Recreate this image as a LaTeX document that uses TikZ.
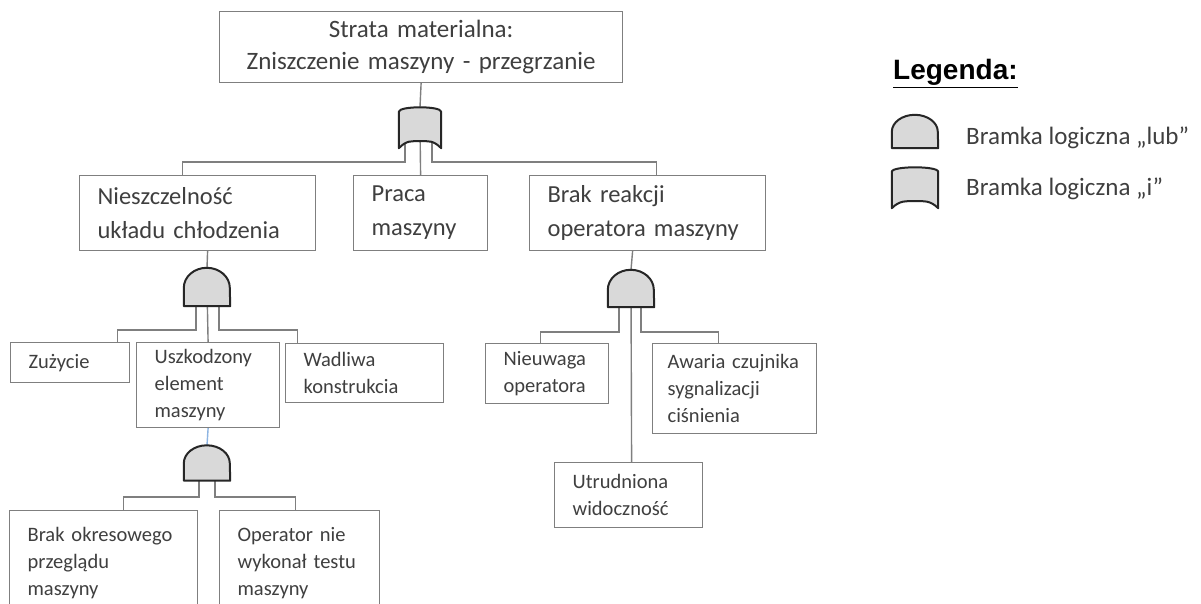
\documentclass[tikz,border=0pt]{standalone}
\usepackage{fontspec}
\setmainfont{Carlito}
\newfontfamily\arialfont{Liberation Sans}
\usepackage{tikz}
\usetikzlibrary{positioning,calc}
\definecolor{ramka}{HTML}{7F7F7F}
\definecolor{tekst}{HTML}{3F3F3F}
\definecolor{bramkafill}{HTML}{D9D9D9}
\definecolor{bramkaline}{HTML}{262626}
\definecolor{niebieski}{HTML}{8DB4E2}
\hyphenpenalty=10000
\exhyphenpenalty=10000

% bramka "lub": zaokraglona gora (#2 = wysokosc luku)
\newcommand{\bramkalub}[2]{%
  \draw[bramka] (#1.south west) -- ([yshift=-#2]#1.north west)
    arc[start angle=180, end angle=0, x radius=23pt, y radius=#2]
    -- (#1.south east) -- cycle;}
% bramka "i": wklesly dol
\newcommand{\bramkai}[1]{%
  \draw[bramka] ([yshift=-5pt]#1.north west)
    .. controls ([yshift=1pt]#1.north west) and ([yshift=1pt]#1.north east) .. ([yshift=-5pt]#1.north east)
    -- (#1.south east)
    .. controls +(-8pt,8pt) and +(9pt,0pt) .. ([yshift=7pt]#1.south)
    .. controls +(-9pt,0pt) and +(8pt,8pt) .. (#1.south west) -- cycle;}

\begin{document}
\begin{tikzpicture}[
  x=1pt, y=-1pt,
  kadr/.style={
    draw=ramka, line width=1.2pt, anchor=north west, align=left,
    inner xsep=18pt, inner ysep=0pt, text=tekst
  },
  poziom1/.style={kadr, align=center, inner xsep=0pt, font=\fontsize{25}{32}\selectfont},
  poziom2/.style={kadr, font=\fontsize{24.5}{34}\selectfont},
  poziom3/.style={kadr, font=\fontsize{20.5}{27}\selectfont},
  brama/.style={minimum width=46pt, minimum height=#1, inner sep=0pt},
  bramka/.style={draw=bramkaline, fill=bramkafill, line width=2pt, line join=round},
  lacznik/.style={draw=ramka, line width=1.4pt},
  opis/.style={text=tekst, inner sep=0pt, anchor=base west, font=\fontsize{25}{28}\selectfont}
]
\clip (0,0) rectangle (1201,604);
\fill[white] (0,0) rectangle (1201,604);

% Zdarzenie szczytowe
\node[poziom1, text width=403pt, minimum height=71pt] (strata) at (219,11)
  {Strata materialna:\\Zniszczenie maszyny - przegrzanie};

% Poziom 2
\node[poziom2, text width=200pt, minimum height=75pt] (nieszcz) at (79,175)
  {Nieszczelność\\układu chłodzenia};
\node[poziom2, text width=98pt, minimum height=75pt] (praca) at (353,175)
  {Praca\\maszyny};
\node[poziom2, text width=200pt, minimum height=75pt] (brak) at (529,175)
  {Brak reakcji\\operatora maszyny};

% Poziom 3
\node[poziom3, text width=83pt, minimum height=40pt] (zuzycie) at (10,342)
  {Zużycie};
\node[poziom3, text width=107pt, minimum height=85pt] (uszk) at (136,342)
  {Uszkodzony\\element\\maszyny};
\node[poziom3, text width=122pt, minimum height=59pt] (wadliwa) at (285,343)
  {Wadliwa\\konstrukcia};
\node[poziom3, text width=87pt, minimum height=60pt] (nieuwaga) at (485,343)
  {Nieuwaga\\operatora};
\node[poziom3, text width=134pt, inner xsep=15pt, minimum height=90pt] (awaria) at (652,343)
  {\mbox{Awaria czujnika}\\sygnalizacji\\ciśnienia};
\node[poziom3, text width=112pt, minimum height=65pt] (utrudn) at (554,462)
  {Utrudniona\\widoczność};

% Poziom 4
\node[poziom3, text width=152pt, minimum height=104pt] (brakprz) at (9,510)
  {Brak okresowego\\przeglądu\\maszyny};
\node[poziom3, text width=124pt, minimum height=104pt] (operator) at (219,510)
  {Operator nie\\wykonał testu\\maszyny};

% Bramki
\node[brama=41pt, minimum width=42pt] (g0) at (420,127.5) {};
\node[brama=38pt] (g1) at (207,287) {};
\node[brama=37pt] (g2) at (631,288.5) {};
\node[brama=35pt] (g3) at (207,463) {};

% Polaczenia
\draw[lacznik] (strata.south) -- (g0.north);
\draw[lacznik] ([xshift=-15pt]g0.center) |- ([xshift=-15pt,yshift=13pt]nieszcz.north) -- ([xshift=-15pt]nieszcz.north);
\draw[lacznik] (g0.center) -- (praca.north);
\draw[lacznik] ([xshift=12pt]g0.center) |- ([xshift=9pt,yshift=13pt]brak.north) -- ([xshift=9pt]brak.north);

\draw[lacznik] ([xshift=10pt]nieszcz.south) -- (g1.north);
\draw[lacznik] ([xshift=-11pt]g1.center) |- ([xshift=47.5pt,yshift=12pt]zuzycie.north) -- ([xshift=47.5pt]zuzycie.north);
\draw[lacznik] (g1.center) -- (uszk.north);
\draw[lacznik] ([xshift=12pt]g1.center) |- ([xshift=-67pt,yshift=13pt]wadliwa.north) -- ([xshift=-67pt]wadliwa.north);

\draw[lacznik] ([xshift=-15pt]brak.south) -- (g2.north);
\draw[lacznik] ([xshift=-12pt]g2.center) |- ([xshift=-6.5pt,yshift=11pt]nieuwaga.north) -- ([xshift=-6.5pt]nieuwaga.north);
\draw[lacznik] (g2.center) -- ([xshift=3pt]utrudn.north);
\draw[lacznik] ([xshift=10pt]g2.center) |- ([xshift=-16pt,yshift=11pt]awaria.north) -- ([xshift=-16pt]awaria.north);

\draw[lacznik, draw=niebieski] (uszk.south) -- (g3.north);
\draw[lacznik] ([xshift=-8pt]g3.center) |- ([xshift=20pt,yshift=13pt]brakprz.north) -- ([xshift=20pt]brakprz.north);
\draw[lacznik] ([xshift=8pt]g3.center) |- ([xshift=-4pt,yshift=13pt]operator.north) -- ([xshift=-4pt]operator.north);

\bramkai{g0}
\bramkalub{g1}{20pt}
\bramkalub{g2}{20pt}
\bramkalub{g3}{18pt}

% Legenda
\node[anchor=base west, inner sep=0pt, font=\arialfont\bfseries\fontsize{28}{32}\selectfont] (legenda) at (893,80)
  {\underline{Legenda:}};
\node[brama=33pt] (lg1) at (915,131.5) {};
\node[brama=41pt] (lg2) at (915,187.5) {};
\bramkalub{lg1}{17pt}
\bramkai{lg2}
\node[opis] (lubopis) at (966,145) {Bramka logiczna „lub”};
\node[opis] (iopis) at (966,195) {Bramka logiczna „i”};
\end{tikzpicture}
\end{document}
